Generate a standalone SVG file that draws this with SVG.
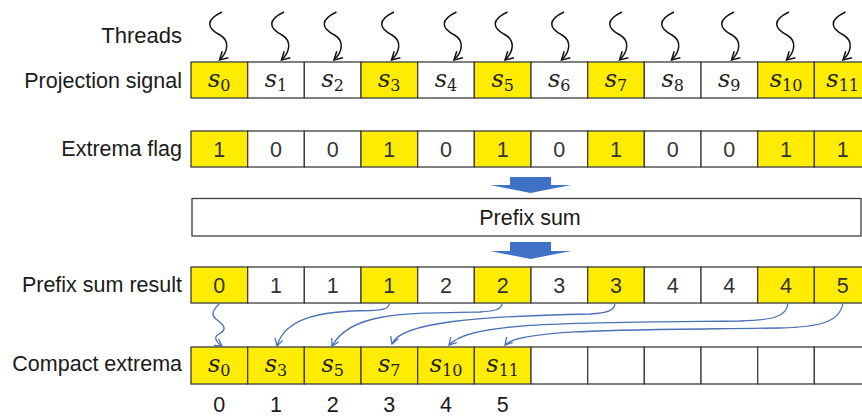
<svg xmlns="http://www.w3.org/2000/svg" width="862" height="416" viewBox="0 0 862 416">
<style>
.lbl{font-family:"Liberation Sans",Arial,sans-serif;font-size:21.5px;fill:#1a1a1a;text-anchor:end}
.num{font-family:"Liberation Sans",Arial,sans-serif;font-size:21.5px;fill:#333;text-anchor:middle}
.idx{font-family:"Liberation Sans",Arial,sans-serif;font-size:21.5px;fill:#1a1a1a;text-anchor:middle}
.s{font-family:"DejaVu Serif","Liberation Serif",serif;font-size:24px;fill:#222;text-anchor:middle}
.s .v{font-style:italic}
.s .sub{font-size:16px}
.y{fill:#FFEC00;stroke:#3c3c3c;stroke-width:1.3}
.w{fill:#fff;stroke:#3c3c3c;stroke-width:1.3}
.thr{fill:none;stroke:#111;stroke-width:1.5}
.blu{fill:none;stroke:#4a70b5;stroke-width:1.3}
.blk{fill:#3f72c6}
</style>
<defs>
<marker id="ah" viewBox="-10 -6 12 12" refX="0" refY="0" markerWidth="12" markerHeight="12" markerUnits="userSpaceOnUse" orient="auto">
<path d="M-8,-4.5 L0,0 L-8,4.5" fill="none" stroke="#111" stroke-width="1.5"/>
</marker>
<marker id="bh" viewBox="-10 -6 12 12" refX="0" refY="0" markerWidth="12" markerHeight="12" markerUnits="userSpaceOnUse" orient="auto">
<path d="M-7,-4 L0,0 L-7,4" fill="none" stroke="#4a70b5" stroke-width="1.3"/>
</marker>
</defs>
<rect width="862" height="416" fill="#fff"/>

<g id="labels">
<text class="lbl" x="182" y="43" style="font-size:22px">Threads</text>
<text class="lbl" x="182" y="88">Projection signal</text>
<text class="lbl" x="182" y="156">Extrema flag</text>
<text class="lbl" x="182" y="292">Prefix sum result</text>
<text class="lbl" x="182" y="371">Compact extrema</text>
</g>

<g id="threads">
<path class="thr" marker-end="url(#ah)" d="M222,12 C205,20 207,28 220,35 C230,41 228,52 219.5,60"/>
<path class="thr" marker-end="url(#ah)" d="M284,12 C267,20 269,28 282,35 C292,41 290,52 281.5,60"/>
<path class="thr" marker-end="url(#ah)" d="M336.5,12 C319.5,20 321.5,28 334.5,35 C344.5,41 342.5,52 334,60"/>
<path class="thr" marker-end="url(#ah)" d="M394,12 C377,20 379,28 392,35 C402,41 400,52 391.5,60"/>
<path class="thr" marker-end="url(#ah)" d="M456.5,12 C439.5,20 441.5,28 454.5,35 C464.5,41 462.5,52 454,60"/>
<path class="thr" marker-end="url(#ah)" d="M507.5,12 C490.5,20 492.5,28 505.5,35 C515.5,41 513.5,52 505,60"/>
<path class="thr" marker-end="url(#ah)" d="M564,12 C547,20 549,28 562,35 C572,41 570,52 561.5,60"/>
<path class="thr" marker-end="url(#ah)" d="M622,12 C605,20 607,28 620,35 C630,41 628,52 619.5,60"/>
<path class="thr" marker-end="url(#ah)" d="M674,12 C657,20 659,28 672,35 C682,41 680,52 671.5,60"/>
<path class="thr" marker-end="url(#ah)" d="M734,12 C717,20 719,28 732,35 C742,41 740,52 731.5,60"/>
<path class="thr" marker-end="url(#ah)" d="M789,12 C772,20 774,28 787,35 C797,41 795,52 786.5,60"/>
<path class="thr" marker-end="url(#ah)" d="M845.5,12 C828.5,20 830.5,28 843.5,35 C853.5,41 851.5,52 843,60"/>
</g>

<g id="projection-signal">
<rect class="y" x="191" y="62" width="56.67" height="36"/>
<rect class="w" x="247.67" y="62" width="56.67" height="36"/>
<rect class="w" x="304.33" y="62" width="56.67" height="36"/>
<rect class="y" x="361" y="62" width="56.67" height="36"/>
<rect class="w" x="417.67" y="62" width="56.67" height="36"/>
<rect class="y" x="474.33" y="62" width="56.67" height="36"/>
<rect class="w" x="531" y="62" width="56.67" height="36"/>
<rect class="y" x="587.67" y="62" width="56.67" height="36"/>
<rect class="w" x="644.33" y="62" width="56.67" height="36"/>
<rect class="w" x="701" y="62" width="56.67" height="36"/>
<rect class="y" x="757.67" y="62" width="56.67" height="36"/>
<rect class="y" x="814.33" y="62" width="56.67" height="36"/>
<text class="s" x="219.3" y="87"><tspan class="v">s</tspan><tspan class="sub" dy="4">0</tspan></text>
<text class="s" x="276" y="87"><tspan class="v">s</tspan><tspan class="sub" dy="4">1</tspan></text>
<text class="s" x="332.7" y="87"><tspan class="v">s</tspan><tspan class="sub" dy="4">2</tspan></text>
<text class="s" x="389.3" y="87"><tspan class="v">s</tspan><tspan class="sub" dy="4">3</tspan></text>
<text class="s" x="446" y="87"><tspan class="v">s</tspan><tspan class="sub" dy="4">4</tspan></text>
<text class="s" x="502.7" y="87"><tspan class="v">s</tspan><tspan class="sub" dy="4">5</tspan></text>
<text class="s" x="559.3" y="87"><tspan class="v">s</tspan><tspan class="sub" dy="4">6</tspan></text>
<text class="s" x="616" y="87"><tspan class="v">s</tspan><tspan class="sub" dy="4">7</tspan></text>
<text class="s" x="672.7" y="87"><tspan class="v">s</tspan><tspan class="sub" dy="4">8</tspan></text>
<text class="s" x="729.3" y="87"><tspan class="v">s</tspan><tspan class="sub" dy="4">9</tspan></text>
<text class="s" x="786" y="87"><tspan class="v">s</tspan><tspan class="sub" dy="4">10</tspan></text>
<text class="s" x="842.7" y="87"><tspan class="v">s</tspan><tspan class="sub" dy="4">11</tspan></text>
</g>

<g id="extrema-flag">
<rect class="y" x="191" y="131" width="56.67" height="36"/>
<rect class="w" x="247.67" y="131" width="56.67" height="36"/>
<rect class="w" x="304.33" y="131" width="56.67" height="36"/>
<rect class="y" x="361" y="131" width="56.67" height="36"/>
<rect class="w" x="417.67" y="131" width="56.67" height="36"/>
<rect class="y" x="474.33" y="131" width="56.67" height="36"/>
<rect class="w" x="531" y="131" width="56.67" height="36"/>
<rect class="y" x="587.67" y="131" width="56.67" height="36"/>
<rect class="w" x="644.33" y="131" width="56.67" height="36"/>
<rect class="w" x="701" y="131" width="56.67" height="36"/>
<rect class="y" x="757.67" y="131" width="56.67" height="36"/>
<rect class="y" x="814.33" y="131" width="56.67" height="36"/>
<text class="num" x="219.3" y="157">1</text>
<text class="num" x="276" y="157">0</text>
<text class="num" x="332.7" y="157">0</text>
<text class="num" x="389.3" y="157">1</text>
<text class="num" x="446" y="157">0</text>
<text class="num" x="502.7" y="157">1</text>
<text class="num" x="559.3" y="157">0</text>
<text class="num" x="616" y="157">1</text>
<text class="num" x="672.7" y="157">0</text>
<text class="num" x="729.3" y="157">0</text>
<text class="num" x="786" y="157">1</text>
<text class="num" x="842.7" y="157">1</text>
</g>

<g id="arrow-1"><polygon class="blk" points="510,177 551,177 551,185 571,185 530.5,193 490,185 510,185"/></g>

<g id="prefix-sum">
<rect class="w" x="192" y="198.5" width="669" height="37.5"/>
<text class="num" x="530" y="225" style="fill:#1a1a1a">Prefix sum</text>
</g>

<g id="arrow-2"><polygon class="blk" points="510,242 551,242 551,251 571,251 530.5,259 490,251 510,251"/></g>

<g id="prefix-sum-result">
<rect class="y" x="191" y="267" width="56.67" height="36"/>
<rect class="w" x="247.67" y="267" width="56.67" height="36"/>
<rect class="w" x="304.33" y="267" width="56.67" height="36"/>
<rect class="y" x="361" y="267" width="56.67" height="36"/>
<rect class="w" x="417.67" y="267" width="56.67" height="36"/>
<rect class="y" x="474.33" y="267" width="56.67" height="36"/>
<rect class="w" x="531" y="267" width="56.67" height="36"/>
<rect class="y" x="587.67" y="267" width="56.67" height="36"/>
<rect class="w" x="644.33" y="267" width="56.67" height="36"/>
<rect class="w" x="701" y="267" width="56.67" height="36"/>
<rect class="y" x="757.67" y="267" width="56.67" height="36"/>
<rect class="y" x="814.33" y="267" width="56.67" height="36"/>
<text class="num" x="219.3" y="293">0</text>
<text class="num" x="276" y="293">1</text>
<text class="num" x="332.7" y="293">1</text>
<text class="num" x="389.3" y="293">1</text>
<text class="num" x="446" y="293">2</text>
<text class="num" x="502.7" y="293">2</text>
<text class="num" x="559.3" y="293">3</text>
<text class="num" x="616" y="293">3</text>
<text class="num" x="672.7" y="293">4</text>
<text class="num" x="729.3" y="293">4</text>
<text class="num" x="786" y="293">4</text>
<text class="num" x="842.7" y="293">5</text>
</g>

<g id="compact-extrema">
<rect class="y" x="191" y="347" width="56.67" height="37"/>
<rect class="y" x="247.67" y="347" width="56.67" height="37"/>
<rect class="y" x="304.33" y="347" width="56.67" height="37"/>
<rect class="y" x="361" y="347" width="56.67" height="37"/>
<rect class="y" x="417.67" y="347" width="56.67" height="37"/>
<rect class="y" x="474.33" y="347" width="56.67" height="37"/>
<rect class="w" x="531" y="347" width="56.67" height="37"/>
<rect class="w" x="587.67" y="347" width="56.67" height="37"/>
<rect class="w" x="644.33" y="347" width="56.67" height="37"/>
<rect class="w" x="701" y="347" width="56.67" height="37"/>
<rect class="w" x="757.67" y="347" width="56.67" height="37"/>
<rect class="w" x="814.33" y="347" width="56.67" height="37"/>
<text class="s" x="219.3" y="372"><tspan class="v">s</tspan><tspan class="sub" dy="4">0</tspan></text>
<text class="s" x="276" y="372"><tspan class="v">s</tspan><tspan class="sub" dy="4">3</tspan></text>
<text class="s" x="332.7" y="372"><tspan class="v">s</tspan><tspan class="sub" dy="4">5</tspan></text>
<text class="s" x="389.3" y="372"><tspan class="v">s</tspan><tspan class="sub" dy="4">7</tspan></text>
<text class="s" x="446" y="372"><tspan class="v">s</tspan><tspan class="sub" dy="4">10</tspan></text>
<text class="s" x="502.7" y="372"><tspan class="v">s</tspan><tspan class="sub" dy="4">11</tspan></text>
</g>

<g id="indices">
<text class="idx" x="219.3" y="412">0</text>
<text class="idx" x="276" y="412">1</text>
<text class="idx" x="332.7" y="412">2</text>
<text class="idx" x="389.3" y="412">3</text>
<text class="idx" x="446" y="412">4</text>
<text class="idx" x="502.7" y="412">5</text>
</g>

<g id="connectors">
<path class="blu" marker-end="url(#bh)" d="M220,303 C214,309 210,314 216,319 C224,325 228,329 219,334 C213,337 216,342 222,346"/>
<path class="blu" marker-end="url(#bh)" d="M389.5,303 C389,309 383,310 370,310.5 C320,311 285,318 277,346"/>
<path class="blu" marker-end="url(#bh)" d="M502,303 C502,310 494,311 480,312 C400,313 350,313 332,346"/>
<path class="blu" marker-end="url(#bh)" d="M615,303 C615,311 606,313 590,314 C480,316 400,322 392,344"/>
<path class="blu" marker-end="url(#bh)" d="M788,303 C787,318 770,320 740,321 C560,323 470,322 449,345"/>
<path class="blu" marker-end="url(#bh)" d="M843,303 C840,322 820,327 780,328 C650,330 520,328 505,345"/>
</g>
</svg>
